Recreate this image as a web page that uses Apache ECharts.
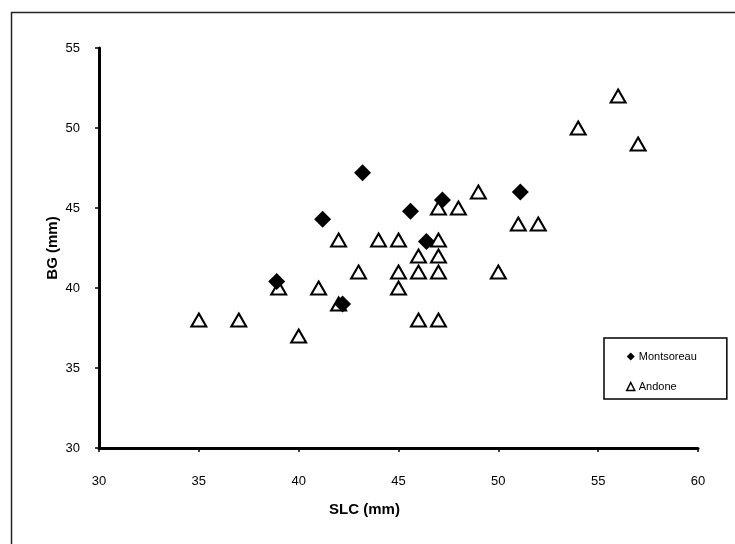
<!DOCTYPE html>
<html><head><meta charset="utf-8">
<script src="https://cdn.jsdelivr.net/npm/echarts@6/dist/echarts.min.js"></script>
<style>html,body{margin:0;padding:0;background:#fff}#c{width:735px;height:544px}</style>
</head><body><div id="c"></div>
<script>
const xTicks = [30, 35, 40, 45, 50, 55, 60];
const yTicks = [30, 35, 40, 45, 50, 55];
const montsoreauSLC = [38.9, 41.2, 42.2, 43.2, 45.6, 46.4, 47.2, 51.1];
const montsoreauBG  = [40.4, 44.3, 39.0, 47.2, 44.8, 42.9, 45.5, 46.0];
const andoneSLC = [35, 37, 39, 40, 41, 42, 42, 43, 44, 45, 45, 45, 46, 46, 46, 47, 47, 47, 47, 47, 48, 49, 50, 51, 52, 54, 56, 57];
const andoneBG  = [38, 38, 40, 37, 40, 43, 39, 41, 43, 43, 41, 40, 42, 41, 38, 45, 43, 42, 41, 38, 45, 46, 41, 44, 44, 50, 52, 49];

const chart = echarts.init(document.getElementById('c'), null, {renderer: 'canvas'});
const font = 'Arial, "Liberation Sans", sans-serif';
chart.setOption({
  animation: false,
  backgroundColor: '#fff',
  graphic: [{
    type: 'rect', left: 9, top: 10, shape: {width: 740, height: 550},
    style: {fill: 'none', stroke: '#222', lineWidth: 1.5}, z: -1
  }],
  grid: {left: 99, top: 48, width: 599, height: 400, containLabel: false},
  xAxis: {
    type: 'value', min: xTicks[0], max: xTicks[xTicks.length - 1], interval: 5,
    name: 'SLC (mm)', nameLocation: 'middle', nameGap: 54, nameMoveOverlap: false,
    nameTextStyle: {fontFamily: font, fontSize: 15, fontWeight: 'bold', color: '#000', padding: [0, 68, 0, 0]},
    axisLine: {lineStyle: {color: '#000', width: 3}},
    axisTick: {show: true, length: 4, lineStyle: {color: '#000', width: 1.5}},
    axisLabel: {fontFamily: font, fontSize: 13, color: '#000', margin: 27},
    splitLine: {show: false}
  },
  yAxis: {
    type: 'value', min: yTicks[0], max: yTicks[yTicks.length - 1], interval: 5,
    name: 'BG (mm)', nameLocation: 'middle', nameGap: 39, nameMoveOverlap: false,
    nameTextStyle: {fontFamily: font, fontSize: 15, fontWeight: 'bold', color: '#000'},
    axisLine: {lineStyle: {color: '#000', width: 3}},
    axisTick: {show: true, length: 4, lineStyle: {color: '#000', width: 1.5}},
    axisLabel: {fontFamily: font, fontSize: 13, color: '#000', margin: 19},
    splitLine: {show: false}
  },
  legend: {
    orient: 'vertical', left: 604, top: 338,
    padding: [13, 30, 7, 22], itemGap: 19,
    itemWidth: 8, itemHeight: 8,
    backgroundColor: '#fff', borderColor: '#000', borderWidth: 1.5,
    textStyle: {fontFamily: font, fontSize: 11, color: '#000', padding: [0, 0, 0, -1]},
    data: [
      {name: 'Montsoreau', icon: 'diamond', itemStyle: {color: '#000'}},
      {name: 'Andone', icon: 'triangle', itemStyle: {color: '#fff', borderColor: '#000', borderWidth: 1.5}}
    ]
  },
  series: [
    {
      name: 'Montsoreau', type: 'scatter', symbol: 'diamond', symbolSize: [17, 17],
      itemStyle: {color: '#000', opacity: 1},
      data: montsoreauSLC.map((v, i) => [v, montsoreauBG[i]]), z: 3
    },
    {
      name: 'Andone', type: 'scatter', symbol: 'triangle', symbolSize: [15, 13],
      itemStyle: {color: '#fff', borderColor: '#000', borderWidth: 2, opacity: 1},
      data: andoneSLC.map((v, i) => [v, andoneBG[i]]), z: 2
    }
  ]
});
</script></body></html>
